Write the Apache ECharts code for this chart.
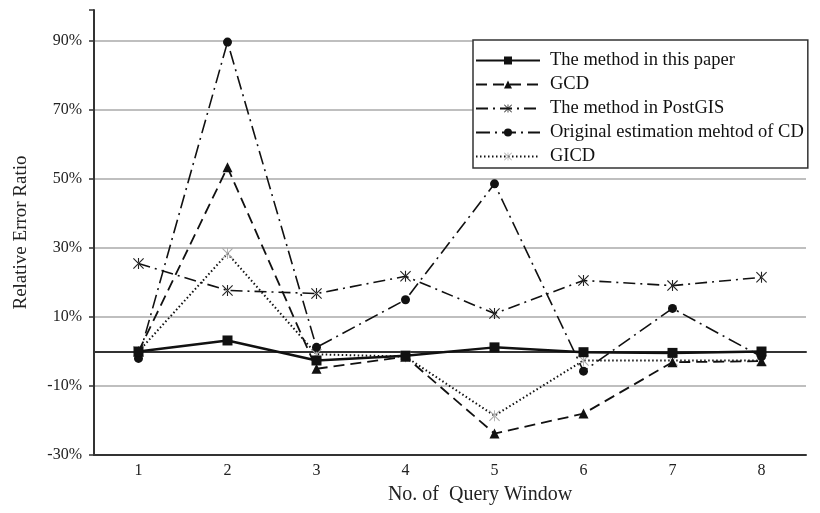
<!DOCTYPE html>
<html><head><meta charset="utf-8">
<script src="https://cdn.jsdelivr.net/npm/echarts@6/dist/echarts.min.js"></script>
<style>html,body{margin:0;padding:0;background:#fff}#c{width:820px;height:513px}</style>
</head><body><div id="c"></div>
<script>
const categories = ['1','2','3','4','5','6','7','8'];
const seriesNames = ['The method in this paper','GCD','The method in PostGIS','Original estimation mehtod of CD','GICD'];
const paper   = [0, 3.2, -2.6, -1.2, 1.2, -0.2, -0.4, 0];
const gcd     = [0, 53.4, -5, -1.5, -23.8, -18, -3.1, -2.8];
const postgis = [25.5, 17.7, 16.8, 21.8, 11, 20.6, 19.1, 21.5];
const origCD  = [-2, 89.7, 1.2, 15, 48.6, -5.7, 12.5, -1.5];
const gicd    = [0, 28.4, -0.8, -1.5, -18.6, -2.6, -2.6, -2.6];
const yTicks = [-30, -10, 10, 30, 50, 70, 90];

const FONT = '"Liberation Serif", "DejaVu Serif", serif';
const asterisk = 'path://M4.5 0 H5.5 V10 H4.5 Z M0 0.7 L0.7 0 L10 9.3 L9.3 10 Z M10 0.7 L9.3 0 L0 9.3 L0.7 10 Z';
const cross = 'path://M0 0.7 L0.7 0 L10 9.3 L9.3 10 Z M10 0.7 L9.3 0 L0 9.3 L0.7 10 Z M4.6 0 H5.4 V10 H4.6 Z';

const chart = echarts.init(document.getElementById('c'), null, {renderer: 'canvas'});
chart.setOption({
  animation: false,
  backgroundColor: '#fff',
  grid: {left: 94, right: 14, top: 10, bottom: 58},
  legend: {
    orient: 'vertical', left: 473, top: 40,
    padding: [11, 4, 2, 2],
    itemGap: 5, itemWidth: 64, itemHeight: 10,
    borderColor: '#333', borderWidth: 1.5,
    backgroundColor: '#fff',
    textStyle: {fontFamily: FONT, fontSize: 18.5, color: '#111', lineHeight: 18, padding: [0, 0, 0, 5]},
    data: seriesNames
  },
  xAxis: [{
    type: 'category', data: categories, position: 'bottom',
    axisLine: {onZero: false, lineStyle: {color: '#333', width: 2}},
    axisTick: {alignWithLabel: true, length: 5, lineStyle: {color: '#333', width: 1.5}},
    axisLabel: {fontFamily: FONT, fontSize: 16, color: '#222', margin: 8},
    name: 'No. of  Query Window', nameLocation: 'middle', nameGap: 30,
    nameTextStyle: {fontFamily: FONT, fontSize: 20, color: '#222', padding: [0, 0, 0, 60]}
  }, {
    type: 'category', data: categories, position: 'top',
    axisLine: {onZero: true, lineStyle: {color: '#333', width: 2}},
    axisTick: {inside: true, length: 4, lineStyle: {color: '#555', width: 1}},
    axisLabel: {show: false}
  }],
  yAxis: {
    type: 'value', min: -30, max: 99, interval: 20,
    axisLine: {show: true, lineStyle: {color: '#333', width: 2}},
    axisTick: {show: true, length: 5, lineStyle: {color: '#333', width: 1.5}},
    axisLabel: {
      fontFamily: FONT, fontSize: 16, color: '#222', margin: 12,
      formatter: v => yTicks.includes(v) ? v + '%' : ''
    },
    splitLine: {show: true, showMaxLine: false, lineStyle: {color: '#aaa', width: 1.5}},
    name: 'Relative Error Ratio', nameLocation: 'middle', nameGap: 63, nameRotate: 90,
    nameTextStyle: {fontFamily: FONT, fontSize: 19, color: '#222'}
  },
  series: [
    {name: seriesNames[0], type: 'line', data: paper, symbol: 'rect', symbolSize: 10,
     itemStyle: {color: '#111'}, lineStyle: {color: '#111', width: 2.5, type: 'solid'}, z: 6},
    {name: seriesNames[1], type: 'line', data: gcd, symbol: 'triangle', symbolSize: 10,
     itemStyle: {color: '#111'}, lineStyle: {color: '#111', width: 1.8, type: [11, 6]}, z: 5},
    {name: seriesNames[2], type: 'line', data: postgis, symbol: asterisk, symbolSize: 11,
     itemStyle: {color: '#222'}, lineStyle: {color: '#111', width: 1.6, type: [12, 5, 2, 5]}, z: 4},
    {name: seriesNames[3], type: 'line', data: origCD, symbol: 'circle', symbolSize: 9,
     itemStyle: {color: '#111'}, lineStyle: {color: '#111', width: 1.6, type: [14, 5, 2, 5]}, z: 4},
    {name: seriesNames[4], type: 'line', data: gicd, symbol: cross, symbolSize: 11,
     itemStyle: {color: '#aaa'}, lineStyle: {color: '#111', width: 2, type: [1.5, 2.5]}, z: 3}
  ]
});
</script></body></html>
